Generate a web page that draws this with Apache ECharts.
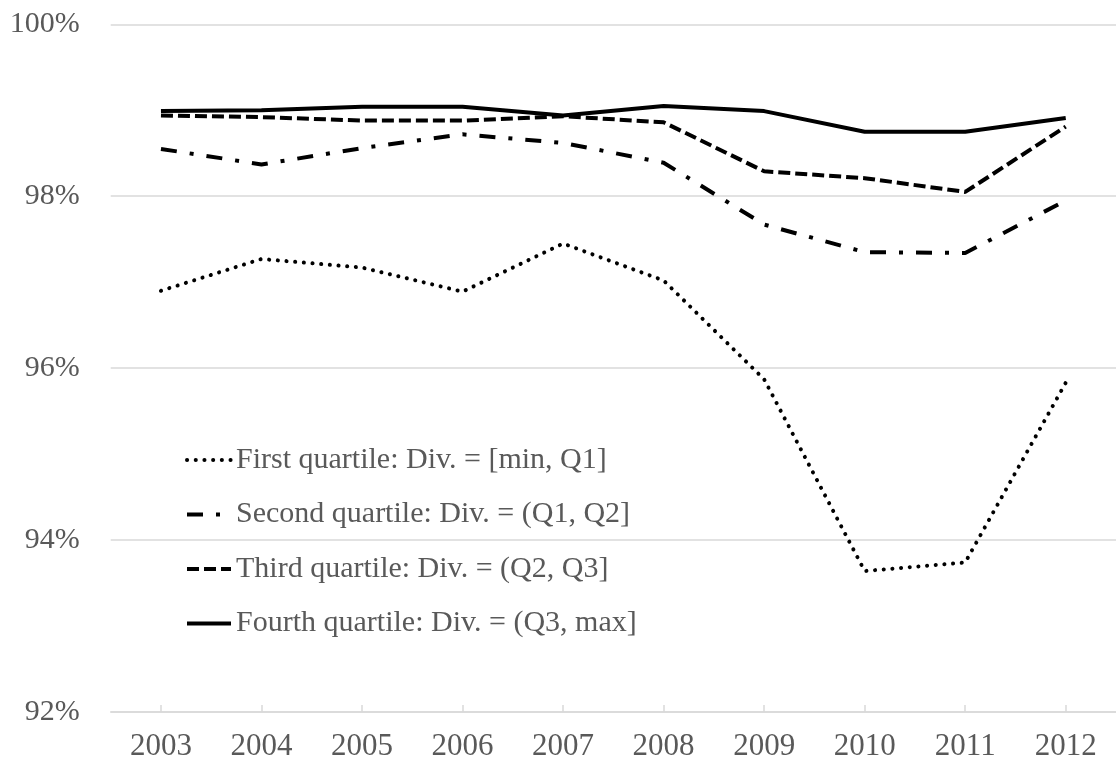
<!DOCTYPE html>
<html>
<head>
<meta charset="utf-8">
<script src="https://cdn.jsdelivr.net/npm/echarts@6/dist/echarts.min.js"></script>
<style>html,body{margin:0;padding:0;background:#fff}#c{width:1116px;height:762px}</style>
</head>
<body>
<div id="c"></div>
<script>
const years = ['2003','2004','2005','2006','2007','2008','2009','2010','2011','2012'];
const firstQuartile  = [96.90, 97.27, 97.17, 96.89, 97.45, 97.02, 95.87, 93.64, 93.74, 95.83];
const secondQuartile = [98.55, 98.37, 98.56, 98.72, 98.62, 98.39, 97.67, 97.35, 97.34, 97.95];
const thirdQuartile  = [98.94, 98.92, 98.88, 98.88, 98.93, 98.86, 98.29, 98.21, 98.05, 98.81];
const fourthQuartile = [98.99, 99.00, 99.04, 99.04, 98.94, 99.05, 98.99, 98.75, 98.75, 98.91];
const seriesNames = [
  'First quartile: Div. = [min, Q1]',
  'Second quartile: Div. = (Q1, Q2]',
  'Third quartile: Div. = (Q2, Q3]',
  'Fourth quartile: Div. = (Q3, max]'
];
const yTicks = { min: 92, max: 100, step: 2 };

const font = 'Liberation Serif, Times New Roman, serif';
const txt = '#595959';
const grid = '#d9d9d9';

function mk(name, data, lineStyle) {
  return {
    name, type: 'line', data, symbol: 'circle', showSymbol: false, symbolSize: 0,
    lineStyle: Object.assign({ color: '#000' }, lineStyle),
    itemStyle: { color: '#000', opacity: 0 },
    emphasis: { disabled: true },
    animation: false
  };
}

const chart = echarts.init(document.getElementById('c'), null, { renderer: 'canvas' });
chart.setOption({
  animation: false,
  backgroundColor: '#fff',
  grid: { left: 110.7, right: -7, top: 24.3, bottom: 48 },
  xAxis: {
    type: 'category', data: years, boundaryGap: true,
    axisLine: { show: true, lineStyle: { color: grid, width: 1.5 } },
    axisTick: { show: true, inside: true, length: 7, alignWithLabel: true, lineStyle: { color: grid, width: 1.5 } },
    axisLabel: { color: txt, fontFamily: font, fontSize: 31, margin: 19 },
    splitLine: { show: false }
  },
  yAxis: {
    type: 'value', min: yTicks.min, max: yTicks.max, interval: yTicks.step,
    axisLine: { show: false }, axisTick: { show: false },
    axisLabel: { color: txt, fontFamily: font, fontSize: 30, margin: 31, formatter: v => v + '%' },
    splitLine: { show: true, lineStyle: { color: grid, width: 1.5 } }
  },
  legend: {
    orient: 'vertical', left: 180, top: 440,
    itemWidth: 44, itemHeight: 14, itemGap: 24.5,
    itemStyle: { opacity: 0, borderWidth: 0 },
    lineStyle: { width: 4 },
    textStyle: { color: txt, fontFamily: font, fontSize: 30, lineHeight: 30 },
    data: seriesNames,
    selectedMode: false
  },
  series: [
    mk(seriesNames[0], firstQuartile, { width: 4, type: [0.1, 8.6], cap: 'round' }),
    mk(seriesNames[1], secondQuartile, { width: 4, type: [16, 13, 4, 13], cap: 'butt' }),
    mk(seriesNames[2], thirdQuartile, { width: 4, type: [12, 5], cap: 'butt' }),
    mk(seriesNames[3], fourthQuartile, { width: 4, type: 'solid' })
  ]
});
</script>
</body>
</html>
